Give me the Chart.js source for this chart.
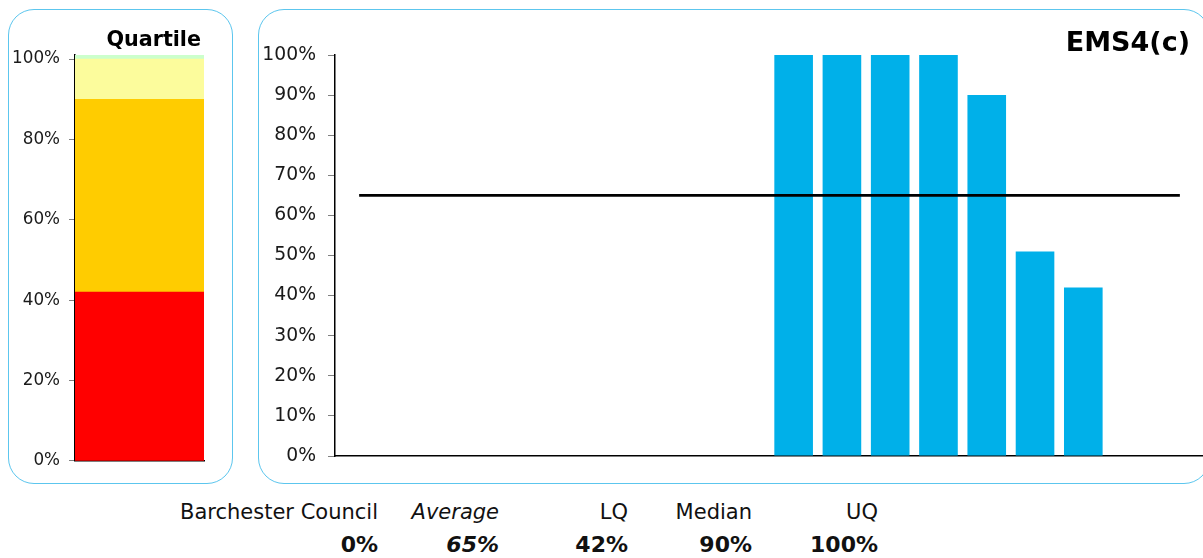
<!DOCTYPE html>
<html>
<head>
<meta charset="utf-8">
<script src="https://cdn.jsdelivr.net/npm/chart.js@4/dist/chart.umd.min.js"></script>
<style>
  html, body { margin: 0; padding: 0; background: #fff; overflow: hidden; }
  body { width: 1203px; height: 558px; position: relative; font-family: "DejaVu Sans", Verdana, sans-serif; color: #111; }
  .panel { position: absolute; border: 1px solid #5cc6ee; border-radius: 26px; box-sizing: border-box; }
  canvas { position: absolute; }
  .title { position: absolute; font-weight: bold; color: #000; white-space: nowrap; }
  .cell { position: absolute; white-space: nowrap; text-align: right; font-size: 21px; color: #111; }
  .cell.val { font-size: 22px; font-weight: bold; }
</style>
</head>
<body>
<div class="panel" style="left:8px; top:9px; width:225px; height:475px;"></div>
<div class="panel" style="left:258px; top:9px; width:952px; height:475px;"></div>
<canvas id="quartile" width="240" height="480" style="left:0; top:0;"></canvas>
<canvas id="main" width="946" height="480" style="left:258px; top:0;"></canvas>
<div class="title" id="qTitle" style="right:1002px; top:27px; font-size:20.7px;">Quartile</div>
<div class="title" id="mTitle" style="right:13px; top:26px; font-size:27px;">EMS4(c)</div>
<div id="summary"></div>
<script>
// Indicator values
const indicatorName = 'EMS4(c)';
const councilName = 'Barchester Council';
const councilValue = 0;
const averageValue = 65;
const lowerQuartile = 42;
const medianValue = 90;
const upperQuartile = 100;

// Authorities in the comparison group (first is the council itself)
const categories = [
  'Barchester Council', 'Authority 2', 'Authority 3', 'Authority 4', 'Authority 5', 'Authority 6',
  'Authority 7', 'Authority 8', 'Authority 9', 'Authority 10', 'Authority 11', 'Authority 12',
  'Authority 13', 'Authority 14', 'Authority 15', 'Authority 16', 'Authority 17', 'Authority 18'
];
const values = [
  councilValue, null, null, null, null, null, null, null, null,
  100, 100, 100, 100, 90, 51, 42, null, null
];
const averageLine = categories.map(() => averageValue);

// Quartile band (stacked): below LQ, LQ to median, median to UQ, above UQ
const bandLabels = ['Bottom', 'Lower middle', 'Upper middle', 'Top'];
const bandValues = [lowerQuartile, medianValue - lowerQuartile, upperQuartile - medianValue, 1];
const bandColors = ['#ff0000', '#ffcc00', '#fcfc9c', '#ccffcc'];

const quartileTicks = [0, 20, 40, 60, 80, 100];
const mainTicks = [0, 10, 20, 30, 40, 50, 60, 70, 80, 90, 100];

const FONT = '"DejaVu Sans", Verdana, sans-serif';
const pct = v => v + '%';

Chart.defaults.animation = false;
Chart.defaults.font.family = FONT;

new Chart(document.getElementById('quartile'), {
  type: 'bar',
  data: {
    labels: ['Quartile'],
    datasets: bandValues.map((v, i) => ({
      label: bandLabels[i],
      data: [v],
      backgroundColor: bandColors[i],
      borderWidth: 0,
      categoryPercentage: 1,
      barPercentage: 1
    }))
  },
  options: {
    responsive: false,
    layout: { padding: { left: 0, right: 36, top: 55, bottom: 18 } },
    plugins: { legend: { display: false }, tooltip: { enabled: false } },
    scales: {
      x: {
        stacked: true,
        ticks: { display: false },
        grid: { display: false, drawTicks: false },
        border: { display: true, color: '#000', width: 1.5 },
        afterFit: s => { s.height = 0; }
      },
      y: {
        stacked: true,
        min: 0,
        max: 101,
        afterBuildTicks: s => { s.ticks = quartileTicks.map(v => ({ value: v })); },
        afterFit: s => { s.width = 75; },
        ticks: { callback: pct, color: '#1a1a1a', font: { size: 16.8 }, padding: 9 },
        grid: { drawOnChartArea: false, drawTicks: true, tickLength: 6, color: '#808080' },
        border: { display: true, color: '#000', width: 1.5 }
      }
    }
  }
});

new Chart(document.getElementById('main'), {
  type: 'bar',
  data: {
    labels: categories,
    datasets: [
      {
        type: 'line',
        label: 'Average',
        data: averageLine,
        borderColor: '#000',
        borderWidth: 2.8,
        pointRadius: 0,
        fill: false,
        order: 0
      },
      {
        label: indicatorName,
        data: values,
        backgroundColor: '#00b0e9',
        borderWidth: 0,
        categoryPercentage: 0.8,
        barPercentage: 1,
        order: 1
      }
    ]
  },
  options: {
    responsive: false,
    layout: { padding: { left: 0, right: 0, top: 55, bottom: 24 } },
    plugins: { legend: { display: false }, tooltip: { enabled: false } },
    scales: {
      x: {
        ticks: { display: false },
        grid: { display: false, drawTicks: false },
        border: { display: true, color: '#000', width: 1.5 },
        afterFit: s => { s.height = 0; }
      },
      y: {
        min: 0,
        max: 100,
        afterBuildTicks: s => { s.ticks = mainTicks.map(v => ({ value: v })); },
        afterFit: s => { s.width = 77; },
        ticks: { callback: pct, color: '#1a1a1a', font: { size: 18.8 }, padding: 12 },
        grid: { drawOnChartArea: false, drawTicks: true, tickLength: 7, color: '#808080' },
        border: { display: true, color: '#000', width: 1.5 }
      }
    }
  }
});

// Summary rows beneath the chart
const summaryCols = [
  { name: councilName, value: councilValue, right: 378, italic: false },
  { name: 'Average', value: averageValue, right: 499, italic: true },
  { name: 'LQ', value: lowerQuartile, right: 628, italic: false },
  { name: 'Median', value: medianValue, right: 752, italic: false },
  { name: 'UQ', value: upperQuartile, right: 878, italic: false }
];
const summary = document.getElementById('summary');
summaryCols.forEach(c => {
  const head = document.createElement('div');
  head.className = 'cell';
  head.style.right = (1203 - c.right) + 'px';
  head.style.top = '500px';
  if (c.italic) head.style.fontStyle = 'italic';
  head.textContent = c.name;
  summary.appendChild(head);
  const val = document.createElement('div');
  val.className = 'cell val';
  val.style.right = (1203 - c.right) + 'px';
  val.style.top = '532px';
  if (c.italic) val.style.fontStyle = 'italic';
  val.textContent = pct(c.value);
  summary.appendChild(val);
});
</script>
</body>
</html>
